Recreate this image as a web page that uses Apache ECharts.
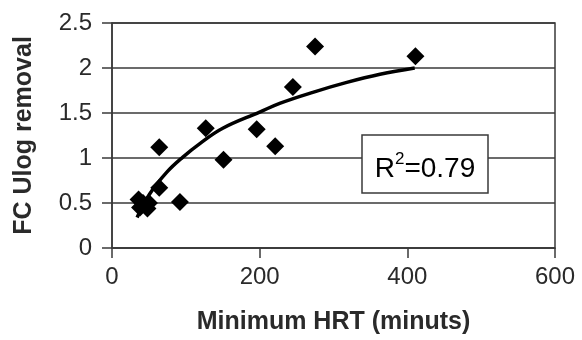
<!DOCTYPE html>
<html>
<head>
<meta charset="utf-8">
<script src="https://cdn.jsdelivr.net/npm/echarts@6/dist/echarts.min.js"></script>
<style>
html,body{margin:0;padding:0;background:#fff;}
#c{width:582px;height:340px;}
</style>
</head>
<body>
<div id="c"></div>
<script>
// Observed points: [minimum HRT (minutes), FC Ulog removal]
const hrtValues = [36, 42, 48, 38, 50, 64, 64, 92, 127, 151, 196, 221, 245, 275, 411];
const removalValues = [0.54, 0.50, 0.44, 0.45, 0.50, 1.12, 0.67, 0.51, 1.33, 0.98, 1.32, 1.13, 1.79, 2.24, 2.13];
// Trend line
const trendX = [34, 51, 74, 96, 119, 150, 200, 228, 272, 318, 363, 410];
const trendY = [0.34, 0.60, 0.84, 1.01, 1.16, 1.33, 1.51, 1.61, 1.73, 1.84, 1.93, 2.00];
const xTicks = [0, 200, 400, 600];
const yTicks = [0, 0.5, 1, 1.5, 2, 2.5];
const r2Label = '0.79';

const font = '"Liberation Sans", Arial, sans-serif';
const lineCol = '#3a3a3a';
const textCol = '#2a2a2a';

const chart = echarts.init(document.getElementById('c'), null, {renderer: 'canvas'});
chart.setOption({
  animation: false,
  backgroundColor: '#fff',
  grid: {left: 112, top: 23, width: 443, height: 230, show: true, borderColor: lineCol, borderWidth: 1.5, backgroundColor: 'transparent'},
  xAxis: {
    type: 'value', min: xTicks[0], max: xTicks[xTicks.length - 1], interval: 200,
    name: 'Minimum HRT (minuts)', nameLocation: 'middle', nameGap: 62,
    nameTextStyle: {fontFamily: font, fontSize: 25, fontWeight: 'bold', color: textCol},
    axisLine: {show: true, lineStyle: {color: lineCol, width: 1.5}},
    axisTick: {show: true, length: 10, lineStyle: {color: lineCol, width: 1.5}},
    axisLabel: {fontFamily: font, fontSize: 24, color: textCol, margin: 17},
    splitLine: {show: false}
  },
  yAxis: {
    type: 'value', min: yTicks[0], max: yTicks[yTicks.length - 1], interval: 0.5,
    name: 'FC Ulog removal', nameLocation: 'middle', nameGap: 75,
    nameTextStyle: {fontFamily: font, fontSize: 25, fontWeight: 'bold', color: textCol},
    axisLine: {show: true, lineStyle: {color: lineCol, width: 1.5}},
    axisTick: {show: true, length: 10, lineStyle: {color: lineCol, width: 1.5}},
    axisLabel: {fontFamily: font, fontSize: 24, color: textCol, margin: 20},
    splitLine: {show: true, lineStyle: {color: lineCol, width: 1.5}}
  },
  series: [
    {
      type: 'line', data: trendX.map((x, i) => [x, trendY[i]]), smooth: 0.4,
      showSymbol: false, symbol: 'none', lineStyle: {color: '#000', width: 3.5}, z: 2
    },
    {
      type: 'scatter', data: hrtValues.map((x, i) => [x, removalValues[i]]),
      symbol: 'diamond', symbolSize: 18, itemStyle: {color: '#000', opacity: 1}, z: 3
    }
  ],
  graphic: [
    {type: 'rect', shape: {x: 362, y: 135, width: 126, height: 58}, style: {fill: '#fff', stroke: lineCol, lineWidth: 1.5}, z: 10},
    {type: 'text', x: 425, y: 166, z: 11, style: {
      text: '{a|R}{b|2}{a|=' + r2Label + '}', align: 'center', verticalAlign: 'middle',
      rich: {
        a: {fontFamily: font, fontSize: 28, color: textCol, lineHeight: 34, verticalAlign: 'bottom'},
        b: {fontFamily: font, fontSize: 17, color: textCol, lineHeight: 34, verticalAlign: 'top', padding: [2, 0, 0, 0]}
      }
    }}
  ]
});
</script>
</body>
</html>
